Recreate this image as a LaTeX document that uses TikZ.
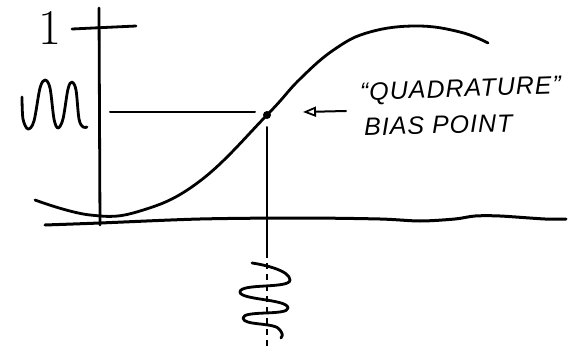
\documentclass[tikz,border=0pt]{standalone}
\usepackage{fontspec}
\newfontfamily\hand[LetterSpace=4]{Liberation Sans}
\usetikzlibrary{arrows.meta}
\begin{document}
\begin{tikzpicture}[x=1pt,y=-1pt,
  ink/.style={line width=2.8pt,line cap=round,line join=round},
  thin ink/.style={line width=2pt,line cap=round},
  label text/.style={font=\hand\itshape\fontsize{25}{28}\selectfont,inner sep=0pt,anchor=west}]
\useasboundingbox (0,0) rectangle (571,351);
% vertical axis
\coordinate (axtop) at (99,8);
\coordinate (axbot) at (100,225);
\draw[ink] (axtop) -- (axbot);
% horizontal axis
\draw[line width=3pt,line cap=round] plot[smooth,tension=0.5] coordinates
  {(45,225) (100,223) (200,219) (300,218) (380,219) (420,221) (455,219) (475,216) (500,216) (545,219) (566,219)};
% level 1 tick and label
\coordinate (tickL) at (72,29);
\coordinate (tickR) at (136,26);
\draw[ink] (tickL) -- (tickR);
\node[font=\fontsize{50}{50}\selectfont,inner sep=0pt] (one) at (50,28) {1};
% transfer curve
\draw[ink] plot[smooth,tension=0.7] coordinates
  {(35,200) (90,215) (140,211) (200,181) (267,115) (300,79) (335,49) (370,32) (417,26) (460,32) (488,43)};
% bias point
\node[circle,fill,inner sep=0pt,minimum size=8pt] (bias) at (267,115) {};
% horizontal bias level
\coordinate (levL) at (110,112);
\coordinate (levR) at (255,112);
\draw[thin ink] (levL) -- (levR);
% vertical bias line
\coordinate (vtop) at (267,127);
\coordinate (vmid) at (267,252);
\coordinate (vbot) at (267,350);
\draw[thin ink] (vtop) -- (vmid);
\draw[thin ink,line cap=butt,dash pattern=on 6pt off 5pt] (vmid) -- (vbot);
% output signal (left)
\draw[ink] plot[smooth,tension=0.55] coordinates
  {(22,97) (23,119) (28,129) (34,121) (40,88) (45,80) (50,88) (54,119) (58,128) (63,119) (68,89) (72,82) (76,90) (79,119) (83,127) (87,127)};
% input signal (bottom)
\coordinate (sS) at (252,263);
\coordinate (sR1) at (290,280);
\coordinate (sL1) at (240,292);
\coordinate (sR2) at (288,308);
\coordinate (sL2) at (243,318);
\coordinate (sE) at (281,338);
\draw[ink] (sS) .. controls (266,265) and (290,271) .. (sR1)
  .. controls (290,289) and (240,283) .. (sL1)
  .. controls (240,300) and (288,299) .. (sR2)
  .. controls (288,316) and (243,310) .. (sL2)
  .. controls (243,326) and (276,322) .. (280,330)
  .. controls (283,334) and (283,337) .. (sE);
% annotation
\node[label text,rotate=2] (quad) at (360,94) {“QUADRATURE”};
\node[label text,rotate=1.5] (biaspt) at (364,127) {BIAS POINT};
\coordinate (arrS) at (346,111);
\coordinate (arrE) at (303,112);
\draw[thin ink,-{Triangle[open,length=13pt,width=10pt,line width=1.8pt]}] (arrS) -- (arrE);
\end{tikzpicture}
\end{document}
